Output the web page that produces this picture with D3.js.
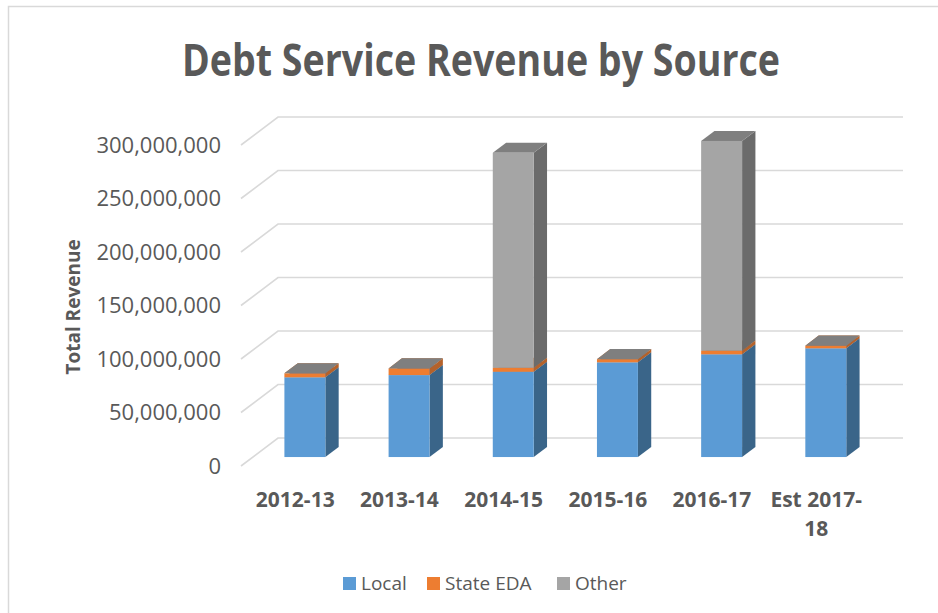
<!DOCTYPE html>
<html>
<head>
<meta charset="utf-8">
<script src="https://cdn.jsdelivr.net/npm/d3@7"></script>
<style>
  html, body { margin: 0; padding: 0; background: #fff; }
  svg { display: block; }
  text { font-family: "Open Sans", "Liberation Sans", sans-serif; fill: #595959; }
</style>
</head>
<body>
<svg id="chart" width="938" height="613"></svg>
<script>
// Fiscal years on the category axis
const categories = ["2012-13", "2013-14", "2014-15", "2015-16", "2016-17", "Est 2017-18"];

// Revenue by source, dollars
const local    = [74500000, 76600000, 79700000, 88500000, 96000000, 101600000];
const stateEDA = [3700000, 6200000, 3700000, 3000000, 3400000, 2500000];
const other    = [0, 0, 201000000, 0, 196000000, 0];

const seriesNames = ["Local", "State EDA", "Other"];
const yTicks = [0, 50000000, 100000000, 150000000, 200000000, 250000000, 300000000];

// face colours per series: front, side, top
const palette = {
  "Local":     { front: "#5B9BD5", side: "#3A6589", top: "#4A84BA" },
  "State EDA": { front: "#ED7D31", side: "#B4622B", top: "#C96B2C" },
  "Other":     { front: "#A5A5A5", side: "#6B6B6B", top: "#7F7F7F" }
};

const svg = d3.select("#chart");

// outer chart border
svg.append("rect")
  .attr("x", 8.5).attr("y", 6.5)
  .attr("width", 960).attr("height", 640)
  .attr("fill", "none").attr("stroke", "#D9D9D9").attr("stroke-width", 1.5);

// oblique 3D projection: depth z runs from 0 (back wall) to 1 (front edge)
const DEPTH_DX = -37, DEPTH_DY = 28;
const backLeft = 278, backRight = 903;

const x = d3.scaleBand()
  .domain(categories)
  .range([backLeft, backRight])
  .paddingInner(0.607)
  .paddingOuter(0.303);

const y = d3.scaleLinear().domain([0, 300000000]).range([438, 117]);

const px = (X, z) => X + DEPTH_DX * z;
const py = (v, z) => y(v) + DEPTH_DY * z;

// gridlines: back wall and the left side wall
const grid = svg.append("g").attr("stroke", "#D9D9D9").attr("stroke-width", 1.6).attr("fill", "none");
yTicks.forEach(v => {
  grid.append("path")
    .attr("d", `M${px(backLeft, 1)},${py(v, 1)} L${px(backLeft, 0)},${py(v, 0)} L${backRight},${py(v, 0)}`);
});

// value axis drawn on the front plane
const yFront = d3.scaleLinear().domain(y.domain()).range(y.range().map(r => r + DEPTH_DY));
const yAxis = svg.append("g")
  .attr("transform", `translate(${px(backLeft, 1)},0)`)
  .call(d3.axisLeft(yFront).tickValues(yTicks).tickFormat(d3.format(",")).tickSize(0).tickPadding(20));
yAxis.select(".domain").remove();
yAxis.selectAll("text")
  .style("font-family", "\"Open Sans\", sans-serif")
  .style("font-size", "22px")
  .attr("fill", "#595959");

// stacked data
const rows = categories.map((c, i) => ({ cat: c, "Local": local[i], "State EDA": stateEDA[i], "Other": other[i] }));
const stacked = d3.stack().keys(seriesNames)(rows);

const zFront = 0.68, zBack = 0.32;
const bw = x.bandwidth();
const bars = svg.append("g");

categories.forEach((c, i) => {
  stacked.forEach(layer => {
    const name = layer.key;
    const [v0, v1] = layer[i];
    const col = palette[name];
    const X0 = x(c), X1 = x(c) + bw;
    const g = bars.append("g");
    // side face
    g.append("path")
      .attr("fill", col.side)
      .attr("d", `M${px(X1, zFront)},${py(v0, zFront)} L${px(X1, zFront)},${py(v1, zFront)} ` +
                 `L${px(X1, zBack)},${py(v1, zBack)} L${px(X1, zBack)},${py(v0, zBack)} Z`);
    // top face
    g.append("path")
      .attr("fill", col.top)
      .attr("d", `M${px(X0, zFront)},${py(v1, zFront)} L${px(X1, zFront)},${py(v1, zFront)} ` +
                 `L${px(X1, zBack)},${py(v1, zBack)} L${px(X0, zBack)},${py(v1, zBack)} Z`);
    // front face
    g.append("rect")
      .attr("fill", col.front)
      .attr("x", px(X0, zFront))
      .attr("y", py(v1, zFront))
      .attr("width", bw)
      .attr("height", Math.max(0, py(v0, zFront) - py(v1, zFront)));
  });
});

// category labels, wrapped after spaces and hyphens when too wide
const catG = svg.append("g");
categories.forEach(c => {
  const cx = px(x(c) + bw / 2, 0.94);
  const t = catG.append("text")
    .attr("x", cx).attr("y", 507)
    .attr("text-anchor", "middle")
    .style("font-size", "21px").style("font-weight", "bold");
  const tokens = c.match(/[^\s-]+-?\s?/g);
  const maxW = 104;
  let line = "", lineNo = 0;
  let tspan = t.append("tspan").attr("x", cx).attr("dy", 0);
  tokens.forEach(tok => {
    const trial = line + tok;
    tspan.text(trial.trim());
    if (tspan.node().getComputedTextLength() > maxW && line) {
      tspan.text(line.trim());
      line = tok;
      lineNo++;
      tspan = t.append("tspan").attr("x", cx).attr("dy", 29).text(tok.trim());
    } else {
      line = trial;
    }
  });
});

// axis title
svg.append("text")
  .attr("transform", "translate(80,307) rotate(-90)")
  .attr("text-anchor", "middle")
  .style("font-size", "19px").style("font-weight", "bold")
  .text("Total Revenue");

// chart title
svg.append("text")
  .attr("x", 481).attr("y", 76)
  .attr("text-anchor", "middle")
  .attr("textLength", 598).attr("lengthAdjust", "spacingAndGlyphs")
  .style("font-size", "44px").style("font-weight", "bold")
  .text("Debt Service Revenue by Source");

// legend
const legendX = [343, 427, 557];
const legend = svg.append("g");
seriesNames.forEach((name, i) => {
  legend.append("rect")
    .attr("x", legendX[i]).attr("y", 577)
    .attr("width", 13).attr("height", 13)
    .attr("fill", palette[name].front);
  legend.append("text")
    .attr("x", legendX[i] + 18).attr("y", 590)
    .style("font-size", "19px")
    .text(name);
});
</script>
</body>
</html>
